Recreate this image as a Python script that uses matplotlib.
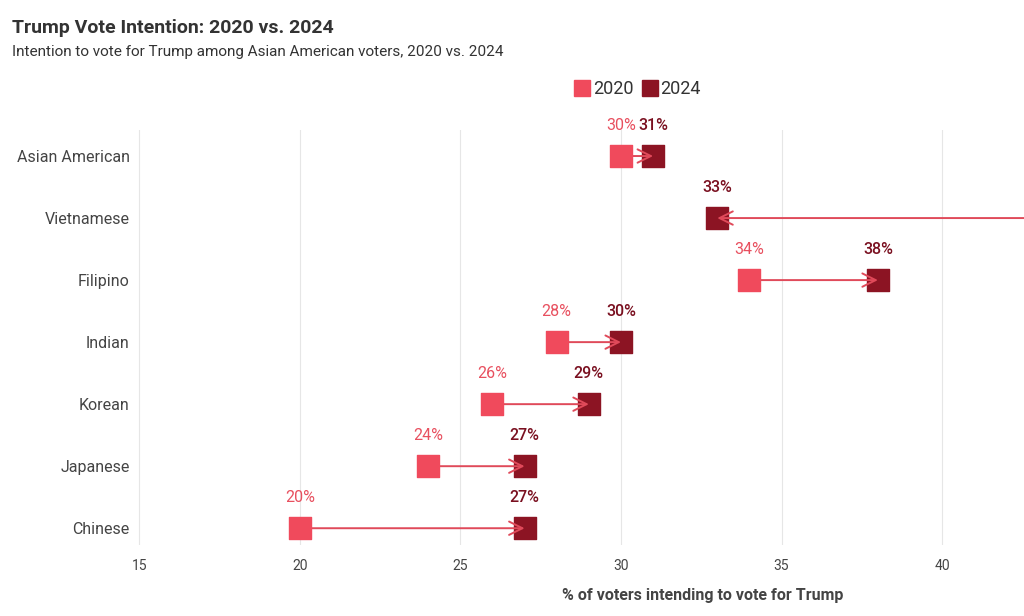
import matplotlib.pyplot as plt
from matplotlib.lines import Line2D

plt.rcParams['font.family'] = ['Roboto', 'DejaVu Sans']

groups = ["Chinese", "Japanese", "Korean", "Indian", "Filipino", "Vietnamese", "Asian American"]
vote_2020 = [20, 24, 26, 28, 34, 48, 30]
vote_2024 = [27, 27, 29, 30, 38, 33, 31]
xticks = [15, 20, 25, 30, 35, 40]

C2020 = "#f04a5c"
C2024 = "#8c1423"
TXT2020 = "#e8505f"
TXT2024 = "#7a1020"
ARROW = "#e04a5a"
XMIN, XMAX = 14.875, 42.55


def main():
    fig = plt.figure(figsize=(10.24, 6.16), dpi=100)
    ax = fig.add_axes([0.132, 0.1153, 0.868, 0.6737])
    ypos = list(range(len(groups)))

    ax.scatter(vote_2024, ypos, marker="s", s=260, color=C2024, zorder=3, clip_on=False)
    for y, a, b in zip(ypos, vote_2020, vote_2024):
        ax.annotate("", xy=(b, y), xytext=(a, y),
                    arrowprops=dict(arrowstyle="->", color=ARROW, lw=1.4,
                                    mutation_scale=24, shrinkA=0, shrinkB=0),
                    zorder=4, annotation_clip=False)
    ax.scatter(vote_2020, ypos, marker="s", s=260, color=C2020, zorder=5)

    # labels only for points inside the visible range
    for y, a, b in zip(ypos, vote_2020, vote_2024):
        if a < XMAX:
            ax.text(a, y + 0.5, f"{a}%", color=TXT2020, ha="center", va="center", fontsize=11.5)
        if b < XMAX:
            ax.text(b, y + 0.5, f"{b}%", color=TXT2024, ha="center", va="center", fontsize=11.5,
                    fontweight="medium")

    ax.set_xlim(XMIN, XMAX)
    ax.set_ylim(-0.27, 6.42)
    ax.set_xticks(xticks)
    ax.set_yticks(ypos)
    ax.set_yticklabels(groups)
    ax.tick_params(axis="both", length=0, colors="#444444")
    ax.tick_params(axis="x", labelsize=10, pad=10)
    ax.tick_params(axis="y", labelsize=11.5, pad=4)
    ax.grid(axis="x", color="#e6e6e6", lw=0.8)
    ax.set_axisbelow(True)
    for s in ax.spines.values():
        s.set_visible(False)

    fig.text(0.686, 0.034, "% of voters intending to vote for Trump", ha="center", va="center",
             fontsize=11.5, fontweight="bold", color="#444444")
    fig.text(0.012, 0.955, "Trump Vote Intention: 2020 vs. 2024", fontsize=14,
             fontweight="bold", color="#333333", va="center")
    fig.text(0.012, 0.916, "Intention to vote for Trump among Asian American voters, 2020 vs. 2024",
             fontsize=11, color="#333333", va="center")

    handles = [Line2D([], [], marker="s", ls="", color=C2020, markersize=11, label="2020"),
               Line2D([], [], marker="s", ls="", color=C2024, markersize=11, label="2024")]
    fig.legend(handles=handles, loc="center", bbox_to_anchor=(0.622, 0.855), ncol=2, frameon=False,
               fontsize=13, handletextpad=0.1, columnspacing=0.4, handlelength=1.0,
               labelcolor="#333333")

    fig.savefig("out.png", dpi=100)


if __name__ == '__main__':
    main()
